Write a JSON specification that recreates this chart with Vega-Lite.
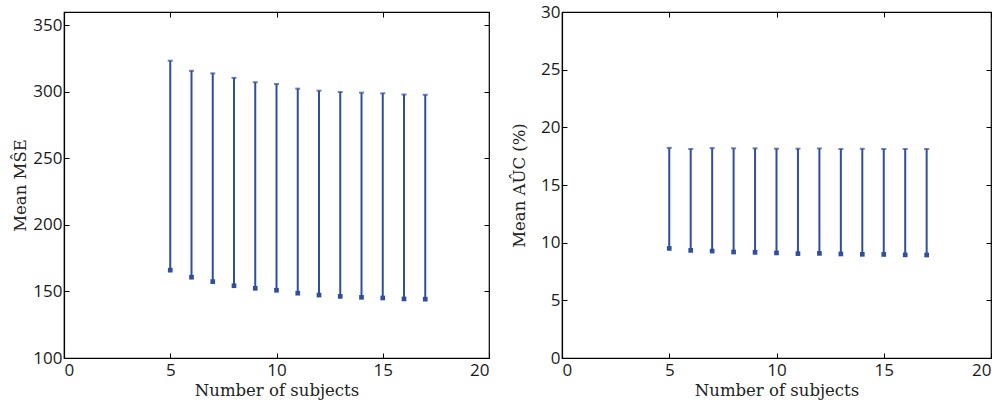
{
  "$schema": "https://vega.github.io/schema/vega-lite/v6.json",
  "padding": {"left": 12, "top": 2, "right": 5, "bottom": 5},
  "background": "white",
  "datasets": {
    "mse": [
      {"n": 5, "lo": 166.0, "hi": 323.4},
      {"n": 6, "lo": 160.7, "hi": 315.8},
      {"n": 7, "lo": 157.4, "hi": 313.9},
      {"n": 8, "lo": 154.3, "hi": 310.5},
      {"n": 9, "lo": 152.4, "hi": 307.2},
      {"n": 10, "lo": 150.9, "hi": 305.9},
      {"n": 11, "lo": 148.7, "hi": 302.4},
      {"n": 12, "lo": 147.3, "hi": 300.9},
      {"n": 13, "lo": 146.3, "hi": 299.9},
      {"n": 14, "lo": 145.6, "hi": 299.4},
      {"n": 15, "lo": 145.1, "hi": 298.9},
      {"n": 16, "lo": 144.4, "hi": 298.0},
      {"n": 17, "lo": 144.2, "hi": 297.8}
    ],
    "auc": [
      {"n": 5, "lo": 9.50, "hi": 18.22},
      {"n": 6, "lo": 9.33, "hi": 18.12},
      {"n": 7, "lo": 9.27, "hi": 18.20},
      {"n": 8, "lo": 9.19, "hi": 18.18},
      {"n": 9, "lo": 9.16, "hi": 18.18},
      {"n": 10, "lo": 9.11, "hi": 18.15},
      {"n": 11, "lo": 9.05, "hi": 18.15},
      {"n": 12, "lo": 9.07, "hi": 18.17},
      {"n": 13, "lo": 9.02, "hi": 18.12},
      {"n": 14, "lo": 8.99, "hi": 18.14},
      {"n": 15, "lo": 8.98, "hi": 18.12},
      {"n": 16, "lo": 8.94, "hi": 18.12},
      {"n": 17, "lo": 8.93, "hi": 18.12}
    ]
  },
  "config": {
    "view": {"stroke": "black", "strokeWidth": 1.2},
    "concat": {"spacing": 73},
    "axis": {
      "grid": false,
      "domainColor": "black",
      "domainWidth": 1.2,
      "tickColor": "black",
      "tickSize": -5,
      "tickWidth": 1,
      "labelPadding": 7,
      "labelFont": "Open Sans",
      "labelFontSize": 17,
      "labelColor": "#1a1a1a",
      "titleFont": "DejaVu Serif",
      "titleFontSize": 16.5,
      "titleFontWeight": "normal",
      "titleColor": "#222222"
    },
    "axisBottom": {"labelPadding": 9}
  },
  "hconcat": [
    {
      "width": 425,
      "height": 346,
      "data": {"name": "mse"},
      "layer": [
        {
          "mark": {"type": "rule", "color": "#2f4e9e", "strokeWidth": 2},
          "encoding": {
            "x": {"field": "n", "type": "quantitative", "scale": {"domain": [0, 20]},
                  "axis": {"title": "Number of subjects", "values": [0, 5, 10, 15, 20], "titlePadding": 4}},
            "y": {"field": "lo", "type": "quantitative", "scale": {"domain": [100, 350]},
                  "axis": {"title": "Mean MŜE", "values": [100, 150, 200, 250, 300, 350], "titlePadding": 4}},
            "y2": {"field": "hi"}
          }
        },
        {
          "mark": {"type": "tick", "orient": "horizontal", "color": "#2f4e9e", "size": 5, "thickness": 2},
          "encoding": {
            "x": {"field": "n", "type": "quantitative", "scale": {"domain": [0, 20]},
                  "axis": {"orient": "top", "title": null, "labels": false, "domain": false, "values": [0, 5, 10, 15, 20]}},
            "y": {"field": "hi", "type": "quantitative", "scale": {"domain": [100, 350]},
                  "axis": {"orient": "right", "title": null, "labels": false, "domain": false, "values": [100, 150, 200, 250, 300, 350]}}
          }
        },
        {
          "mark": {"type": "square", "color": "#2f4e9e", "size": 22, "opacity": 1, "filled": true},
          "encoding": {
            "x": {"field": "n", "type": "quantitative", "axis": null},
            "y": {"field": "lo", "type": "quantitative", "axis": null}
          }
        }
      ],
      "resolve": {"axis": {"x": "independent", "y": "independent"}}
    },
    {
      "width": 429,
      "height": 346,
      "data": {"name": "auc"},
      "layer": [
        {
          "mark": {"type": "rule", "color": "#2f4e9e", "strokeWidth": 2},
          "encoding": {
            "x": {"field": "n", "type": "quantitative", "scale": {"domain": [0, 20]},
                  "axis": {"title": "Number of subjects", "values": [0, 5, 10, 15, 20], "titlePadding": 4}},
            "y": {"field": "lo", "type": "quantitative", "scale": {"domain": [0, 30]},
                  "axis": {"title": "Mean AÛC (%)", "values": [0, 5, 10, 15, 20, 25, 30], "titlePadding": 13}},
            "y2": {"field": "hi"}
          }
        },
        {
          "mark": {"type": "tick", "orient": "horizontal", "color": "#2f4e9e", "size": 5, "thickness": 2},
          "encoding": {
            "x": {"field": "n", "type": "quantitative", "scale": {"domain": [0, 20]},
                  "axis": {"orient": "top", "title": null, "labels": false, "domain": false, "values": [0, 5, 10, 15, 20]}},
            "y": {"field": "hi", "type": "quantitative", "scale": {"domain": [0, 30]},
                  "axis": {"orient": "right", "title": null, "labels": false, "domain": false, "values": [0, 5, 10, 15, 20, 25, 30]}}
          }
        },
        {
          "mark": {"type": "square", "color": "#2f4e9e", "size": 22, "opacity": 1, "filled": true},
          "encoding": {
            "x": {"field": "n", "type": "quantitative", "axis": null},
            "y": {"field": "lo", "type": "quantitative", "axis": null}
          }
        }
      ],
      "resolve": {"axis": {"x": "independent", "y": "independent"}}
    }
  ],
  "bounds": "flush"
}
